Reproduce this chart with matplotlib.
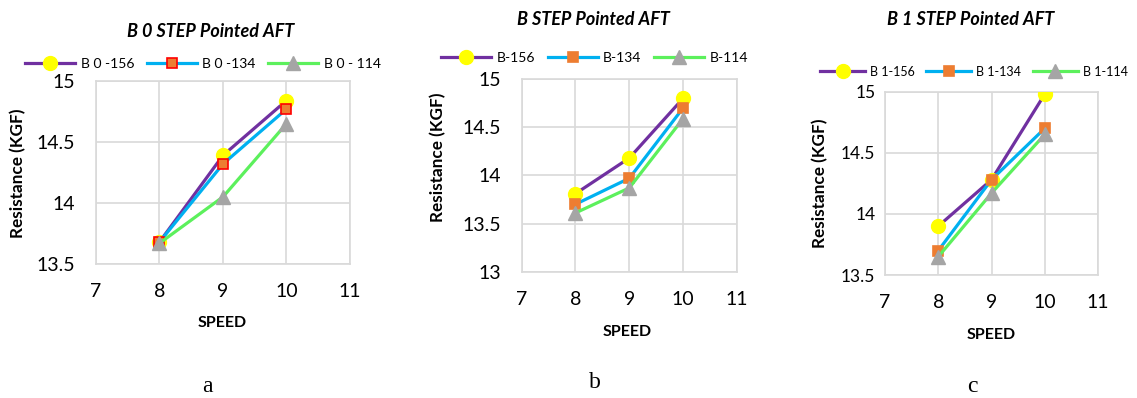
import matplotlib
matplotlib.use("Agg")
import matplotlib.pyplot as plt

plt.rcParams["font.family"] = ["Lato", "DejaVu Sans"]

SPEED = [8, 9, 10]

# panel a: B 0 STEP
A_LABELS = ["B 0 -156", "B 0 -134", "B 0 - 114"]
A_156 = [13.68, 14.39, 14.84]
A_134 = [13.68, 14.32, 14.77]
A_114 = [13.67, 14.05, 14.65]

# panel b: B STEP
B_LABELS = ["B-156", "B-134", "B-114"]
B_156 = [13.81, 14.18, 14.80]
B_134 = [13.70, 13.97, 14.70]
B_114 = [13.61, 13.87, 14.59]

# panel c: B 1 STEP
C_LABELS = ["B 1-156", "B 1-134", "B 1-114"]
C_156 = [13.90, 14.28, 14.98]
C_134 = [13.70, 14.28, 14.70]
C_114 = [13.65, 14.17, 14.65]

LINE_COLORS = ["#7030A0", "#00B0F0", "#5CF05C"]
GRID = "#D9D9D9"

PANELS = [
    dict(title="B 0 STEP Pointed AFT", labels=A_LABELS, series=[A_156, A_134, A_114],
         rect=[0.0844, 0.3367, 0.2234, 0.4598], ylim=(13.5, 15), yticks=[13.5, 14, 14.5, 15],
         yticklabels=["13.5", "14", "14.5", "15"], sq_edge="#FF0000", ypad=15, xpad=14, yfs=14,
         title_xy=(0.1856, 0.920), leg_xy=(0.1785, 0.840), leg_fs=10, ylab_xy=(0.016, 0.565),
         xlab_xy=(0.195, 0.188), letter="a", letter_xy=(0.182, 0.03)),
    dict(title="B STEP Pointed AFT", labels=B_LABELS, series=[B_156, B_134, B_114],
         rect=[0.4588, 0.3173, 0.1894, 0.4842], ylim=(13, 15), yticks=[13, 13.5, 14, 14.5, 15],
         yticklabels=["13", "13.5", "14", "14.5", "15"], sq_edge="#ED7D31", ypad=15, xpad=14, yfs=14,
         title_xy=(0.5216, 0.950), leg_xy=(0.523, 0.855), leg_fs=10, ylab_xy=(0.385, 0.605),
         xlab_xy=(0.552, 0.166), letter="b", letter_xy=(0.523, 0.038)),
    dict(title="B 1 STEP Pointed AFT", labels=C_LABELS, series=[C_156, C_134, C_114],
         rect=[0.7784, 0.3090, 0.1873, 0.4606], ylim=(13.5, 15), yticks=[13.5, 14, 14.5, 15],
         yticklabels=["13.5", "14", "14.5", "15"], sq_edge="#ED7D31", ypad=7, xpad=14, yfs=12.5,
         title_xy=(0.854, 0.950), leg_xy=(0.8566, 0.820), leg_fs=9, ylab_xy=(0.721, 0.54),
         xlab_xy=(0.8716, 0.158), letter="c", letter_xy=(0.855, 0.03)),
]


def draw_panel(fig, p):
    ax = fig.add_axes(p["rect"])
    markers = [
        dict(marker="o", markersize=10, markerfacecolor="#FFFF00", markeredgecolor="#FFFF00"),
        dict(marker="s", markersize=7, markerfacecolor="#ED7D31", markeredgecolor=p["sq_edge"],
             markeredgewidth=1.2),
        dict(marker="^", markersize=10, markerfacecolor="#A5A5A5", markeredgecolor="#A5A5A5"),
    ]
    handles = []
    for vals, color, mk in zip(p["series"], LINE_COLORS, markers):
        h, = ax.plot(SPEED, vals, color=color, linewidth=2.3, zorder=3, **mk)
        handles.append(h)

    ax.set_xlim(7, 11)
    ax.set_xticks([7, 8, 9, 10, 11])
    ax.set_ylim(*p["ylim"])
    ax.set_yticks(p["yticks"])
    ax.set_yticklabels(p["yticklabels"])
    ax.tick_params(length=0)
    ax.tick_params(axis="y", pad=p["ypad"], labelsize=p["yfs"])
    ax.tick_params(axis="x", pad=p["xpad"], labelsize=14)
    ax.grid(color=GRID, linewidth=1.2, zorder=0)
    for s in ax.spines.values():
        s.set_color(GRID)
        s.set_linewidth(1.2)

    fig.text(*p["title_xy"], p["title"], ha="center", va="center",
             fontsize=13, fontweight="bold", fontstyle="italic")
    fig.legend(handles, p["labels"], loc="center", bbox_to_anchor=p["leg_xy"], ncol=3,
               frameon=False, fontsize=p["leg_fs"], handlelength=3.6, columnspacing=0.9,
               handletextpad=0.4)
    fig.text(*p["ylab_xy"], "Resistance (KGF)", rotation=90, ha="center", va="center",
             fontsize=12.3, fontweight="bold")
    fig.text(*p["xlab_xy"], "SPEED", ha="center", va="center", fontsize=11.5, fontweight="bold")
    fig.text(*p["letter_xy"], p["letter"], ha="center", va="center", fontsize=17,
             family="Liberation Serif")


fig = plt.figure(figsize=(11.37, 3.98), dpi=100)
for p in PANELS:
    draw_panel(fig, p)

fig.savefig("out.png", dpi=100)
